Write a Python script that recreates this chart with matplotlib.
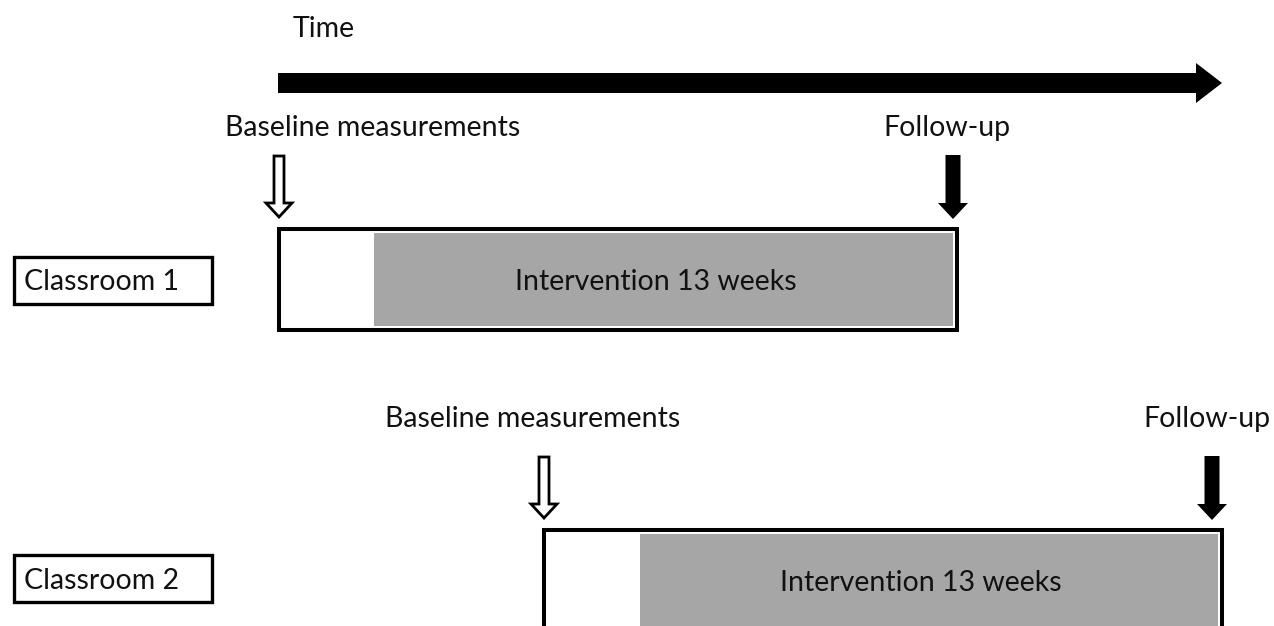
import matplotlib
matplotlib.use("Agg")
import matplotlib.pyplot as plt
from matplotlib.patches import Rectangle, FancyArrow

# diagram content
classrooms = ["Classroom 1", "Classroom 2"]
baseline_label = "Baseline measurements"
followup_label = "Follow-up"
intervention_label = "Intervention 13 weeks"
time_label = "Time"

# per-row timing along the time axis (pixel units of the canvas)
row_y = [0, 301]
baseline_x = [279, 544]
followup_x = [953, 1212]
intervention_start = [374, 640]
box_end = [957, 1222]
baseline_text_x = [225, 385]
followup_text_right = [1011, 1271]

plt.rcParams["font.family"] = ["Lato", "DejaVu Sans"]
txt = dict(fontsize=20.5, color="#111111", va="baseline")

fig = plt.figure(figsize=(12.74, 6.26), dpi=100)
ax = fig.add_axes([0, 0, 1, 1])
ax.set_xlim(0, 1274)
ax.set_ylim(626, 0)
ax.axis("off")

# time axis
ax.text(293, 37, time_label, ha="left", **txt)
ax.add_patch(FancyArrow(278, 83, 1222 - 278, 0, width=20, head_width=40,
                        head_length=26, length_includes_head=True,
                        color="black", lw=0))

for i, name in enumerate(classrooms):
    dy = row_y[i]
    # classroom label box
    ax.add_patch(Rectangle((13.5, 256.5 + dy * 0.993), 198, 47, fill=False,
                           ec="black", lw=2.4))
    ax.text(24, 290 + dy * 0.993, name, ha="left", **txt)

    # timeline box with intervention part
    ax.add_patch(Rectangle((baseline_x[i], 229 + dy), box_end[i] - baseline_x[i], 101,
                           fc="white", ec="black", lw=2.9, zorder=2))
    ax.add_patch(Rectangle((intervention_start[i], 233 + dy),
                           box_end[i] - 4 - intervention_start[i], 93,
                           fc="#a6a6a6", ec="none", zorder=3))
    mid = (intervention_start[i] + box_end[i] - 4) / 2 - 8
    ax.text(mid, 290 + dy, intervention_label, ha="center", zorder=4, **txt)

    # measurement labels
    ty = 136 + dy - 10 * i
    ax.text(baseline_text_x[i], ty, baseline_label, ha="left", **txt)
    ax.text(followup_text_right[i], ty, followup_label, ha="right", **txt)

    # baseline (hollow) and follow-up (filled) arrows
    ax.add_patch(FancyArrow(baseline_x[i], 156 + dy, 0, 61, width=10,
                            head_width=26, head_length=14,
                            length_includes_head=True,
                            fc="white", ec="black", lw=2.0, zorder=5))
    ax.add_patch(FancyArrow(followup_x[i], 155 + dy, 0, 64, width=15,
                            head_width=30, head_length=16,
                            length_includes_head=True,
                            color="black", lw=0, zorder=5))

fig.savefig("out.png", dpi=100)
